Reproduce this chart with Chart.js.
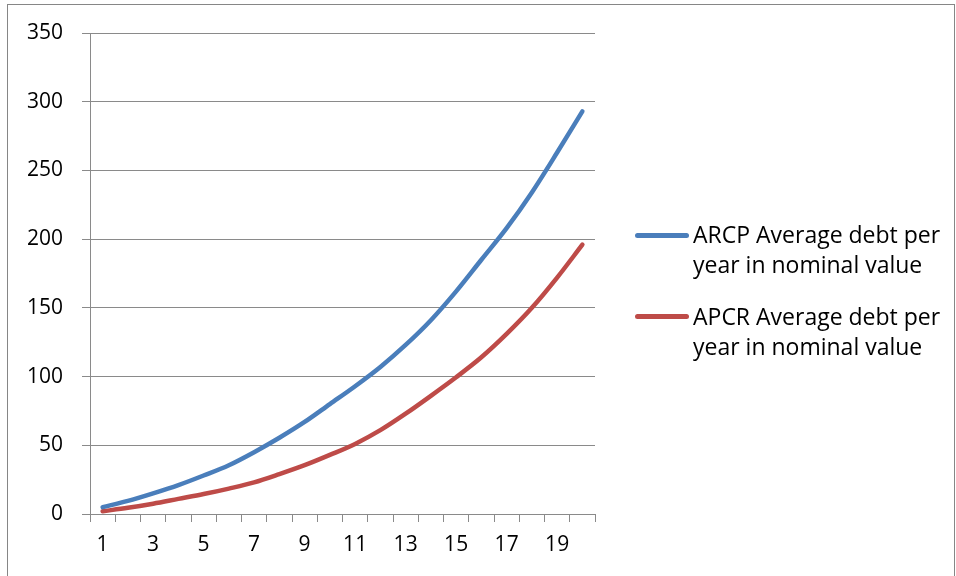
<!DOCTYPE html>
<html lang="en">
  <head>
    <meta charset="UTF-8" />
    <title>Average debt per year</title>
    <script src="https://cdn.jsdelivr.net/npm/chart.js@4/dist/chart.umd.min.js"></script>
    <style>
      body {
        margin: 0;
        background: #fff;
        font-family: "Open Sans", sans-serif;
      }
      .frame {
        position: absolute;
        left: 7px;
        top: 4px;
        width: 946px;
        height: 620px;
        border: 1px solid #868686;
      }
      #debtChart {
        position: absolute;
        left: 0;
        top: 0;
      }
      .legend {
        position: absolute;
        left: 635px;
        top: 0;
      }
      .legend-item {
        position: absolute;
        left: 0;
        width: 330px;
      }
      .legend-item .swatch {
        position: absolute;
        left: 0;
        width: 54px;
        height: 5px;
        border-radius: 3px;
      }
      .legend-item .text {
        position: absolute;
        left: 58px;
        font-size: 23px;
        line-height: 30px;
        color: #000;
        white-space: nowrap;
      }
    </style>
  </head>
  <body>
    <div class="frame"></div>
    <canvas id="debtChart" width="956" height="576"></canvas>
    <div class="legend" id="legend"></div>
  </body>
  <script>
    // years 1..20
    const years = [1, 2, 3, 4, 5, 6, 7, 8, 9, 10, 11, 12, 13, 14, 15, 16, 17, 18, 19, 20];

    const arcpDebt = [5, 9.5, 15, 21, 28, 35.5, 45, 55.5, 67, 80, 93, 107, 123, 141, 162, 185, 208, 234, 263, 293];
    const apcrDebt = [2, 4.5, 7.5, 11, 14.5, 18.5, 23, 29, 35.5, 43, 51, 61, 73, 86, 99.5, 114, 131, 150, 172, 196];

    // legend text, broken where the legend wraps it
    const seriesNames = [
      ["ARCP Average debt per", "year in nominal value"],
      ["APCR Average debt per", "year in nominal value"],
    ];
    const seriesColors = ["#4A7EBB", "#BE4B48"];

    const yTicks = {min: 0, max: 350, step: 50};

    const gridColor = "#8a8a8a";

    Chart.defaults.font.family = "'Open Sans', sans-serif";
    Chart.defaults.font.size = 21;
    Chart.defaults.color = "#000";

    const ctx = document.getElementById("debtChart").getContext("2d");
    const debtChart = new Chart(ctx, {
      type: "line",
      data: {
        labels: years,
        datasets: [
          {
            label: seriesNames[0].join(" "),
            data: arcpDebt,
            borderColor: seriesColors[0],
            backgroundColor: seriesColors[0],
          },
          {
            label: seriesNames[1].join(" "),
            data: apcrDebt,
            borderColor: seriesColors[1],
            backgroundColor: seriesColors[1],
          },
        ],
      },
      options: {
        responsive: false,
        animation: false,
        layout: {padding: {left: 0, top: 33, right: 361, bottom: 0}},
        elements: {
          line: {
            borderWidth: 4.5,
            cubicInterpolationMode: "monotone",
            borderCapStyle: "round",
            borderJoinStyle: "round",
          },
          point: {radius: 0, hoverRadius: 0},
        },
        plugins: {
          legend: {display: false},
          tooltip: {enabled: false},
        },
        scales: {
          x: {
            offset: true,
            grid: {offset: true, drawOnChartArea: false, tickLength: 8, color: gridColor},
            border: {color: gridColor},
            ticks: {
              padding: 10,
              maxRotation: 0,
              autoSkip: false,
              // only odd years get a label
              callback: (value, index) => (index % 2 === 0 ? years[index] : ""),
            },
            afterFit: (scale) => {
              scale.height = 62;
            },
          },
          y: {
            min: yTicks.min,
            max: yTicks.max,
            grid: {tickLength: 8, color: gridColor},
            border: {color: gridColor},
            ticks: {stepSize: yTicks.step, padding: 19},
            afterFit: (scale) => {
              scale.width = 90;
            },
          },
        },
      },
    });

    // legend on the right, two lines per series
    const legend = document.getElementById("legend");
    const legendRows = [235, 316.5];
    debtChart.data.datasets.forEach((ds, i) => {
      const item = document.createElement("div");
      item.className = "legend-item";
      item.style.top = legendRows[i] + "px";
      const swatch = document.createElement("div");
      swatch.className = "swatch";
      swatch.style.top = "-2.5px";
      swatch.style.background = ds.borderColor;
      const text = document.createElement("div");
      text.className = "text";
      text.style.top = "-16px";
      seriesNames[i].forEach((line, j) => {
        if (j > 0) text.appendChild(document.createElement("br"));
        text.appendChild(document.createTextNode(line));
      });
      item.appendChild(swatch);
      item.appendChild(text);
      legend.appendChild(item);
    });
  </script>
</html>
